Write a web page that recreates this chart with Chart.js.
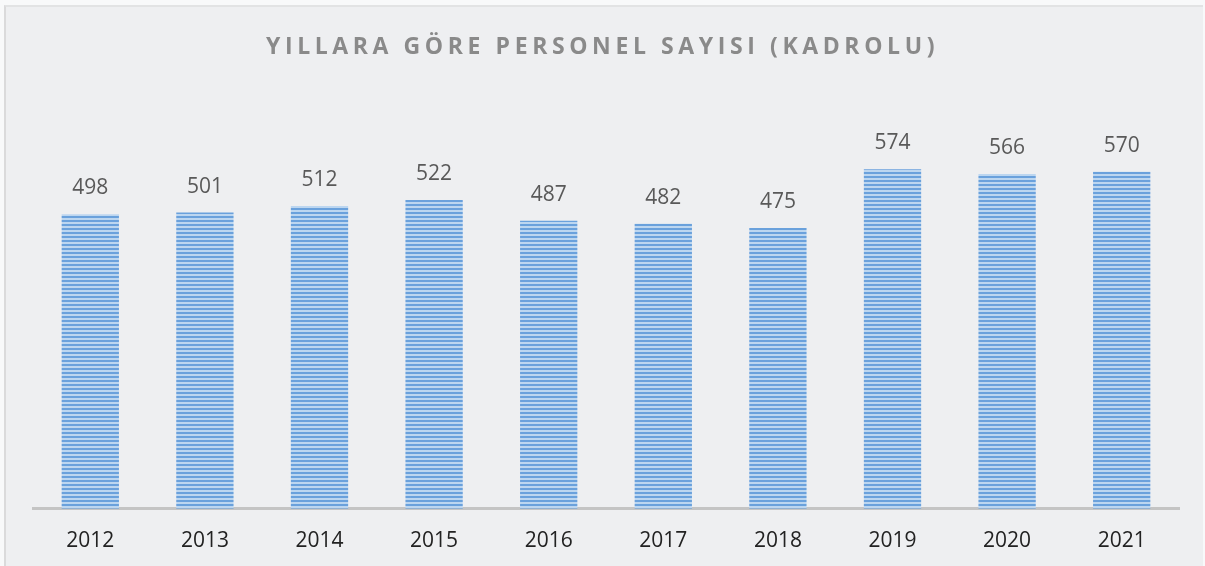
<!DOCTYPE html>
<html>
<head>
<meta charset="utf-8">
<script src="https://cdn.jsdelivr.net/npm/chart.js@4.4.0/dist/chart.umd.min.js"></script>
<style>
  html, body { margin: 0; padding: 0; background: #f8f9fa; overflow: hidden; }
  #frame {
    position: absolute; left: 4px; top: 5px; width: 1199px; height: 561px;
    border-left: 2px solid #dadadb; border-top: 2px solid #e2e3e4;
    background: #eeeff1; box-sizing: border-box;
  }
  #title {
    position: absolute; left: 0; top: 29px; width: 1205px; text-align: center;
    font-family: "Open Sans", sans-serif; font-weight: bold; font-size: 23px;
    letter-spacing: 4.6px; color: #8a8a8a; margin: 0;
  }
  #wrap { position: absolute; left: 0; top: 0; width: 1205px; height: 574px; }
</style>
</head>
<body>
<div id="frame"></div>
<div id="wrap"><canvas id="chart"></canvas></div>
<h1 id="title">YILLARA GÖRE PERSONEL SAYISI (KADROLU)</h1>
<script>
const years = ['2012', '2013', '2014', '2015', '2016', '2017', '2018', '2019', '2020', '2021'];
const staffCounts = [498, 501, 512, 522, 487, 482, 475, 574, 566, 570];

// striped fill like the original bars
function stripes() {
  const c = document.createElement('canvas');
  c.width = 4; c.height = 4;
  const g = c.getContext('2d');
  g.fillStyle = '#bcd6f0';
  g.fillRect(0, 0, 4, 4);
  g.fillStyle = '#6aa1dc';
  g.fillRect(0, 0, 4, 2);
  return g.createPattern(c, 'repeat');
}

const valueLabels = {
  id: 'valueLabels',
  afterDatasetsDraw(chart) {
    const ctx = chart.ctx;
    ctx.save();
    ctx.font = '21px "Open Sans", sans-serif';
    ctx.fillStyle = '#595959';
    ctx.textAlign = 'center';
    ctx.textBaseline = 'middle';
    chart.getDatasetMeta(0).data.forEach((bar, i) => {
      ctx.fillText(staffCounts[i], bar.x, bar.y - 26);
    });
    ctx.restore();
  }
};

const ctx = document.getElementById('chart').getContext('2d');
new Chart(ctx, {
  type: 'bar',
  data: {
    labels: years,
    datasets: [{
      label: 'Personel',
      data: staffCounts,
      backgroundColor: stripes(),
      borderWidth: 0,
      categoryPercentage: 1,
      barPercentage: 0.5
    }]
  },
  options: {
    responsive: true,
    maintainAspectRatio: false,
    animation: false,
    layout: { padding: { left: 33, right: 26, top: 154, bottom: 0 } },
    plugins: {
      legend: { display: false },
      tooltip: { enabled: false }
    },
    scales: {
      x: {
        grid: { display: false, drawTicks: false },
        border: { display: true, color: '#c4c4c4', width: 3 },
        ticks: {
          padding: 20,
          color: '#222222',
          font: { family: '"Open Sans", sans-serif', size: 21 }
        }
      },
      y: {
        display: false,
        min: 0,
        max: 600
      }
    }
  },
  plugins: [valueLabels]
});
</script>
</body>
</html>
